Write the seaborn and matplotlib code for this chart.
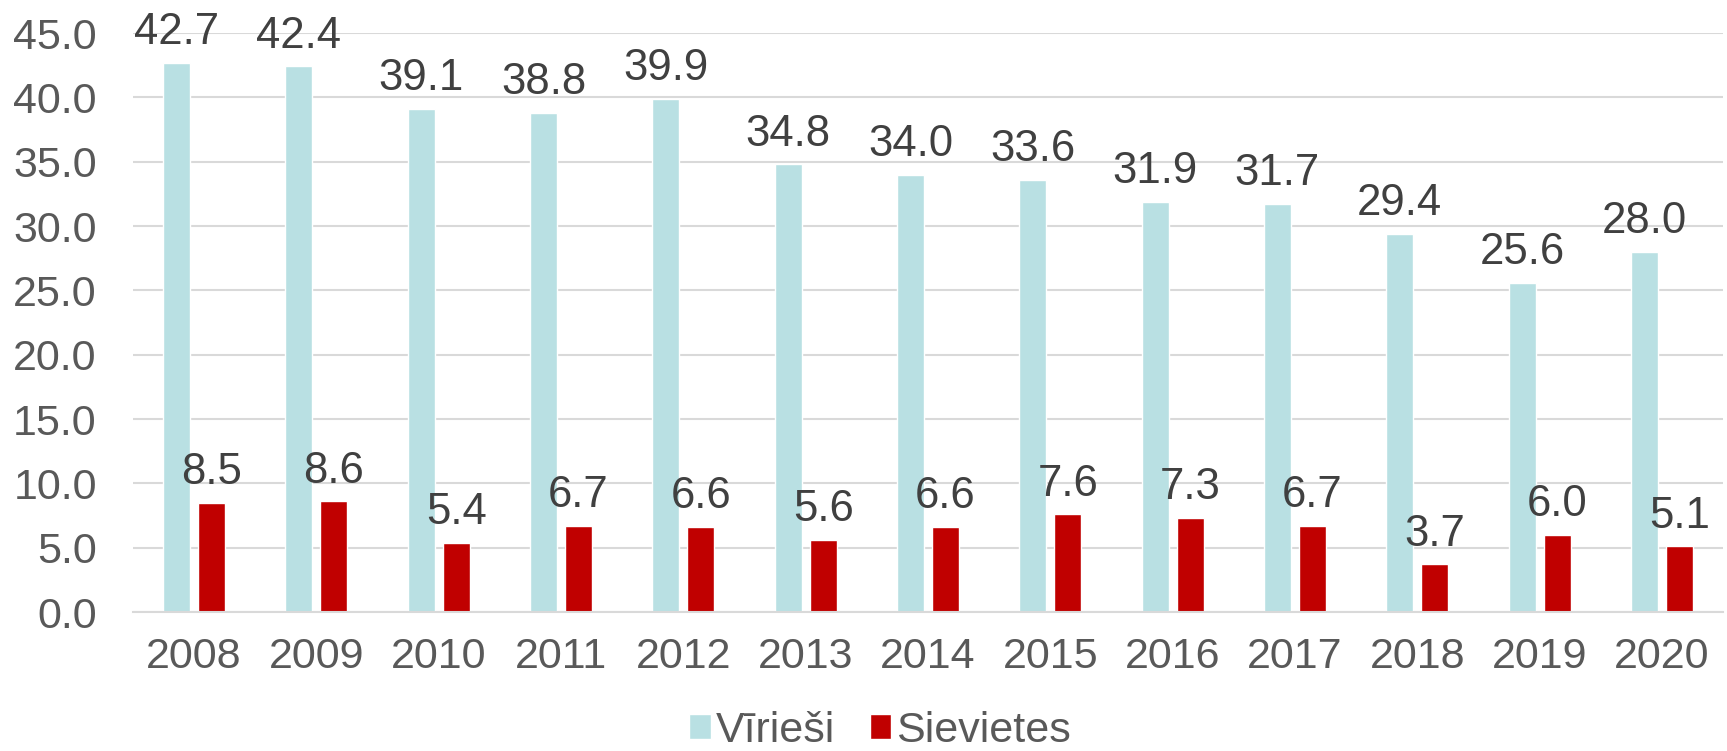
import pandas as pd
import matplotlib.pyplot as plt
import seaborn as sns

# data
years = ['2008', '2009', '2010', '2011', '2012', '2013', '2014',
         '2015', '2016', '2017', '2018', '2019', '2020']
viriesi = [42.7, 42.4, 39.1, 38.8, 39.9, 34.8, 34.0, 33.6, 31.9, 31.7, 29.4, 25.6, 28.0]
sievietes = [8.5, 8.6, 5.4, 6.7, 6.6, 5.6, 6.6, 7.6, 7.3, 6.7, 3.7, 6.0, 5.1]
series_names = ['Vīrieši', 'Sievietes']
yticks = [0, 5, 10, 15, 20, 25, 30, 35, 40, 45]

df = pd.DataFrame({
    'year': years * 2,
    'value': viriesi + sievietes,
    'series': [series_names[0]] * len(years) + [series_names[1]] * len(years),
})

sns.set_theme(style='white')
plt.rcParams['font.family'] = ['Liberation Sans', 'DejaVu Sans']

fig = plt.figure(figsize=(17.27, 7.51), dpi=100)
ax = fig.add_axes([0.077, 0.185, 0.9207, 0.771])

palette = {'Vīrieši': '#B9E0E3', 'Sievietes': '#C00000'}
sns.barplot(data=df, x='year', y='value', hue='series', palette=palette,
            width=0.572, gap=0.227, saturation=1, ax=ax, legend=True)

for c in ax.containers:
    ax.bar_label(c, fmt='%.1f', padding=7, fontsize=31.5, color='#404040', clip_on=False)

ax.set_ylim(0, 45)
ax.set_xlim(-0.5, len(years) - 0.5)
ax.set_yticks(yticks)
ax.set_yticklabels([f'{v:.1f}' for v in yticks])
ax.yaxis.grid(True, color='#D9D9D9', linewidth=1.5)
ax.set_axisbelow(True)
ax.tick_params(axis='y', length=0, pad=26, labelsize=31, labelcolor='#595959')
ax.tick_params(axis='x', length=0, pad=18, labelsize=31, labelcolor='#595959')
ax.set_xlabel('')
ax.set_ylabel('')
for s in ['left', 'right', 'top']:
    ax.spines[s].set_visible(False)
ax.spines['bottom'].set_color('#D9D9D9')
ax.spines['bottom'].set_linewidth(1.5)

# legend sits a bit left of the plot centre in the original
handles, labels = ax.get_legend_handles_labels()
ax.legend(handles, labels, loc='center', bbox_to_anchor=(0.47, -0.205),
          ncol=2, frameon=False, fontsize=31, labelcolor='#595959',
          handlelength=0.5, handleheight=0.5, handletextpad=0.12,
          columnspacing=0.8, borderpad=0.1)

fig.savefig('out.png', dpi=100)
